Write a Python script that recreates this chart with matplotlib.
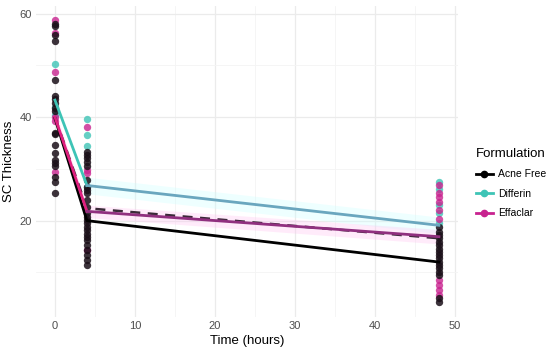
import numpy as np
import matplotlib
matplotlib.use("Agg")
import matplotlib.pyplot as plt
from matplotlib.lines import Line2D

plt.rcParams['font.family'] = ['Liberation Sans', 'DejaVu Sans']

# time points (hours)
time = [0, 4, 48]

# group mean lines
mean_acne = [39.8, 20.0, 12.0]
mean_diff = [43.3, 26.8, 19.1]
mean_effa = [40.0, 21.8, 16.9]
mean_all = [40.0, 22.4, 16.6]   # dashed overall line

# individual measurements per time point
acne_t0 = [58.1, 57.7, 55.8, 54.7, 47.2, 44.0, 43.5, 42.7, 41.7, 41.1, 37.0, 36.8,
           34.6, 33.0, 31.7, 31.1, 30.5, 28.5, 27.5, 25.3]
acne_t4 = [33.3, 32.7, 32.1, 31.4, 30.5, 27.9, 26.6, 25.9, 25.3, 24.0, 22.7, 21.4,
           20.8, 20.1, 19.5, 18.8, 18.2, 17.5, 16.9, 16.3, 15.3, 14.3, 13.4, 12.4, 11.4]
acne_t48 = [18.8, 17.9, 17.2, 16.6, 15.9, 15.3, 14.6, 14.0, 13.3, 12.7, 12.1, 11.4,
            10.8, 10.1, 9.5, 5.0, 4.3]
diff_t0 = [50.3, 42.0, 40.5]
diff_t4 = [39.7, 36.5, 34.5, 26.6]
diff_t48 = [27.5, 26.2, 23.0, 21.4, 19.5]
effa_t0 = [58.8, 56.3, 48.7, 40.0, 39.2, 29.5]
effa_t4 = [38.1, 29.8, 29.2, 14.3]
effa_t48 = [26.9, 25.3, 24.6, 23.7, 22.0, 20.4, 8.5, 7.5, 6.6, 5.6]

# ribbon half widths
diff_band = [1.5, 1.6, 1.6]
effa_band = [1.3, 1.2, 1.4]

c_acne = "#000000"
c_diff = "#3EC4B6"
c_effa = "#C8238F"

fig = plt.figure(figsize=(5.5, 3.49), dpi=100)
ax = fig.add_axes([0.065, 0.092, 0.768, 0.891])

# ribbons
ax.fill_between(time[1:], np.array(mean_diff[1:]) - diff_band[1:],
                np.array(mean_diff[1:]) + diff_band[1:], color="#C8FFFF", alpha=0.3, lw=0)
ax.fill_between(time, np.array(mean_effa) - effa_band,
                np.array(mean_effa) + effa_band, color="#FFC0F0", alpha=0.3, lw=0)

# points
def pts(vals_by_t, color, alpha):
    for t, vals in zip(time, vals_by_t):
        ax.scatter([t] * len(vals), vals, s=28, color=color, alpha=alpha,
                   lw=0, zorder=3)

pts([diff_t0, diff_t4, diff_t48], c_diff, 0.8)
pts([effa_t0, effa_t4, effa_t48], c_effa, 0.8)
pts([acne_t0, acne_t4, acne_t48], "#1A0F18", 0.85)

# lines
ax.plot(time, mean_all, color="#3A2A38", lw=1.8, ls=(0, (4, 3)), zorder=4)
ax.plot(time, mean_acne, color=c_acne, lw=2, zorder=5)
ax.plot(time[:2], mean_diff[:2], color=c_diff, lw=2, zorder=5)
ax.plot(time[1:], mean_diff[1:], color="#6AA6BE", lw=2, zorder=5)
ax.plot(time[:2], mean_effa[:2], color="#E0207F", lw=2, zorder=5)
ax.plot(time[1:], mean_effa[1:], color="#90307F", lw=2, zorder=5)

ax.set_xlim(-2.4, 50.4)
ax.set_ylim(1.4, 61.5)
ax.set_xticks([0, 10, 20, 30, 40, 50])
ax.set_yticks([20, 40, 60])
ax.set_xticks([5, 15, 25, 35, 45], minor=True)
ax.set_yticks([10, 30, 50], minor=True)
ax.grid(which="major", color="#EBEBEB", lw=0.9)
ax.grid(which="minor", color="#F4F4F4", lw=0.6)
ax.set_axisbelow(True)
for s in ax.spines.values():
    s.set_visible(False)
ax.tick_params(which="both", length=0, labelsize=8, labelcolor="#4D4D4D", pad=3)
ax.set_xlabel("Time (hours)", fontsize=9.5, labelpad=3)
ax.set_ylabel("SC Thickness", fontsize=9.5, labelpad=3)

handles = [Line2D([], [], color=c, marker="o", ms=4.5, lw=2)
           for c in [c_acne, c_diff, c_effa]]
leg = ax.legend(handles, ["Acne Free", "Differin", "Effaclar"], title="Formulation",
                loc="center left", bbox_to_anchor=(1.02, 0.43), frameon=False,
                fontsize=7.5, title_fontsize=9.5, handlelength=1.6,
                labelspacing=0.9, handletextpad=0.5)
leg._legend_box.align = "left"

fig.savefig("out.png", dpi=100)
